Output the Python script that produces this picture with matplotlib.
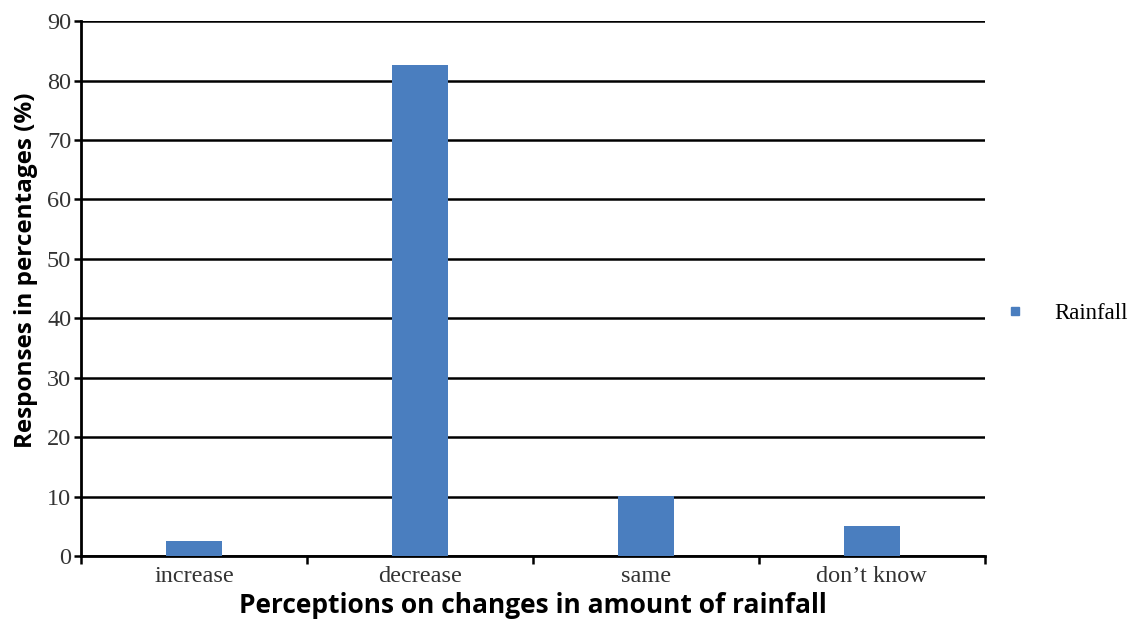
import numpy as np
import matplotlib.pyplot as plt
from matplotlib.lines import Line2D

categories = ['increase', 'decrease', 'same', 'don\u2019t know']
rainfall = [2.6, 82.6, 10.1, 5.0]
y_ticks = [0, 10, 20, 30, 40, 50, 60, 70, 80, 90]

fig = plt.figure(figsize=(11.34, 6.24), dpi=100)
ax = fig.add_axes([0.0714, 0.109, 0.797, 0.857])

x = np.arange(len(categories))
ax.set_axisbelow(True)
ax.bar(x, rainfall, width=0.25, color='#4a7ebf', zorder=3)

ax.set_ylim(0, 90)
ax.set_xlim(-0.5, len(categories) - 0.5)
ax.set_yticks(y_ticks)
ax.set_yticklabels([str(t) for t in y_ticks], fontsize=17.5, family='Liberation Serif', color='#333333')
ax.yaxis.grid(True, color='black', linewidth=1.8)

# category labels at centers, tick marks at category boundaries
ax.set_xticks(x)
ax.set_xticklabels(categories, fontsize=17.5, family='Liberation Serif', color='#333333')
ax.tick_params(axis='x', length=0, pad=7)
ax.set_xticks(np.arange(len(categories) + 1) - 0.5, minor=True)
ax.tick_params(axis='x', which='minor', length=6, width=1.8, direction='out', color='black')
ax.tick_params(axis='y', length=5, width=1.8, color='black', pad=2)

for side in ['top', 'right']:
    ax.spines[side].set_visible(False)
for side in ['left', 'bottom']:
    ax.spines[side].set_linewidth(2)
    ax.spines[side].set_color('black')

ax.set_xlabel('Perceptions on changes in amount of rainfall', fontsize=19,
              fontweight='bold', family='Open Sans', labelpad=4)
ax.set_ylabel('Responses in percentages (%)', fontsize=17.5,
              fontweight='bold', family='Open Sans')
ax.yaxis.set_label_coords(-0.048, 0.535)

handle = Line2D([], [], marker='s', linestyle='none', color='#4a7ebf', markersize=6)
fig.legend([handle], ['Rainfall'], loc='center left', bbox_to_anchor=(0.885, 0.497),
           frameon=False, prop={'family': 'Liberation Serif', 'size': 16.5},
           handlelength=1.0, handletextpad=1.2, borderpad=0, borderaxespad=0)

plt.savefig('out.png', dpi=100)
